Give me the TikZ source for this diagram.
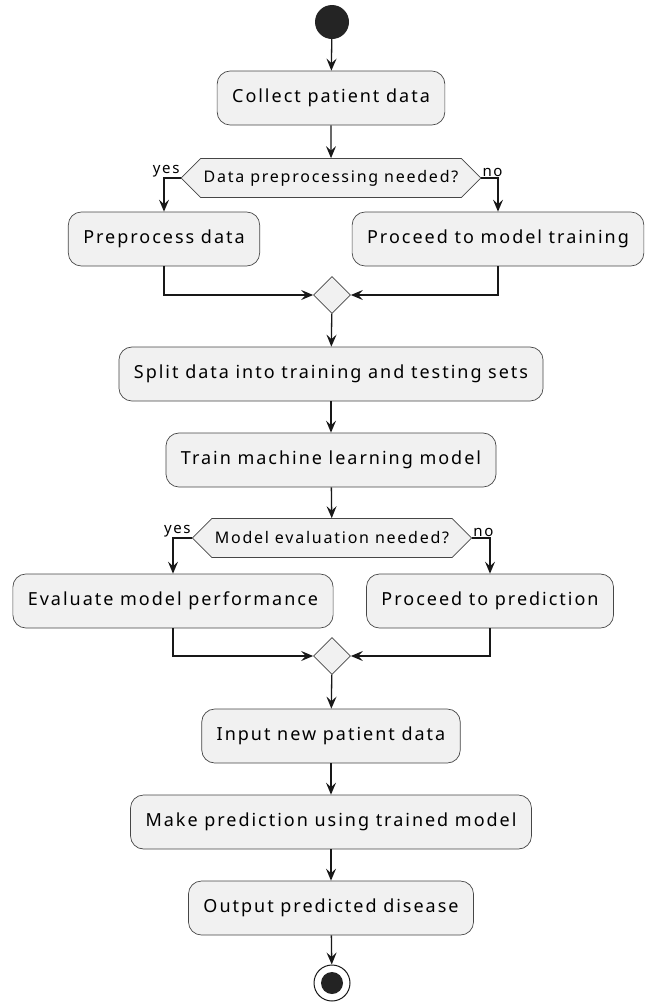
\documentclass[tikz,border=0pt]{standalone}
\usepackage{fontspec}
\setmainfont{Noto Sans}[LetterSpace=11]
\usetikzlibrary{arrows.meta, shapes.geometric, shapes.symbols}
\definecolor{actfill}{HTML}{F1F1F1}
\definecolor{actline}{HTML}{181818}
\tikzset{>={Stealth[length=12pt, width=10pt, inset=4.5pt]},
  flow/.style={->, actline, line width=1.3pt},
  action/.style={draw=actline!80, line width=0.7pt, fill=actfill, rounded corners=13pt,
    minimum height=54pt, inner xsep=15pt, font=\fontsize{18}{22}\selectfont},
  choice/.style={draw=actline!80, line width=0.7pt, fill=actfill, signal, signal to=west and east,
    signal pointer angle=90, minimum height=39pt, inner xsep=3pt, font=\fontsize{16}{19}\selectfont},
  merge/.style={draw=actline!80, line width=0.7pt, fill=actfill, diamond, minimum size=37pt, inner sep=0pt},
  branch/.style={font=\fontsize{15}{18}\selectfont, inner sep=1pt}}

\begin{document}
\begin{tikzpicture}[x=1pt, y=-1pt]
\useasboundingbox (0,0) rectangle (649,1002);

\node[circle, fill=actline!95, minimum size=34pt, inner sep=0pt] (start) at (332,22) {};
\node[action] (collect) at (331,98) {Collect patient data};
\node[choice] (needprep) at (331,178) {Data preprocessing needed?};
\node[action] (prep) at (164,239) {Preprocess data};
\node[action] (totrain) at (498,239) {Proceed to model training};
\node[merge] (join1) at (332,295) {};
\node[action] (split) at (331,374) {Split data into training and testing sets};
\node[action] (train) at (331,460) {Train machine learning model};
\node[choice] (needeval) at (332,538) {Model evaluation needed?};
\node[action] (eval) at (173,601) {Evaluate model performance};
\node[action] (topred) at (490,601) {Proceed to prediction};
\node[merge] (join2) at (332,656) {};
\node[action] (newdata) at (331,736) {Input new patient data};
\node[action] (predict) at (331,822) {Make prediction using trained model};
\node[action] (output) at (331,908) {Output predicted disease};
\node[circle, draw=actline, line width=1pt, fill=white, minimum size=36pt, inner sep=0pt] (stop) at (332,983) {};
\fill[actline!95] (stop.center) circle[radius=11pt];

% main line
\draw[flow] (start) -- (collect);
\draw[flow] (collect) -- (needprep);
\draw[flow] (join1) -- (split);
\draw[flow] (split) -- (train);
\draw[flow] (train) -- (needeval);
\draw[flow] (join2) -- (newdata);
\draw[flow] (newdata) -- (predict);
\draw[flow] (predict) -- (output);
\draw[flow] (output) -- (stop);

% first decision
\draw[flow] (needprep.west) -| (prep.north);
\draw[flow] (needprep.east) -| (totrain.north);
\node[branch, anchor=south east] (yes1) at (needprep.west) {yes};
\node[branch, anchor=south west] (no1) at (needprep.east) {no};
\draw[flow] (prep.south) |- (join1.west);
\draw[flow] (totrain.south) |- (join1.east);

% second decision
\draw[flow] (needeval.west) -| (eval.north);
\draw[flow] (needeval.east) -| (topred.north);
\node[branch, anchor=south east] (yes2) at (needeval.west) {yes};
\node[branch, anchor=south west] (no2) at (needeval.east) {no};
\draw[flow] (eval.south) |- (join2.west);
\draw[flow] (topred.south) |- (join2.east);
\end{tikzpicture}
\end{document}
